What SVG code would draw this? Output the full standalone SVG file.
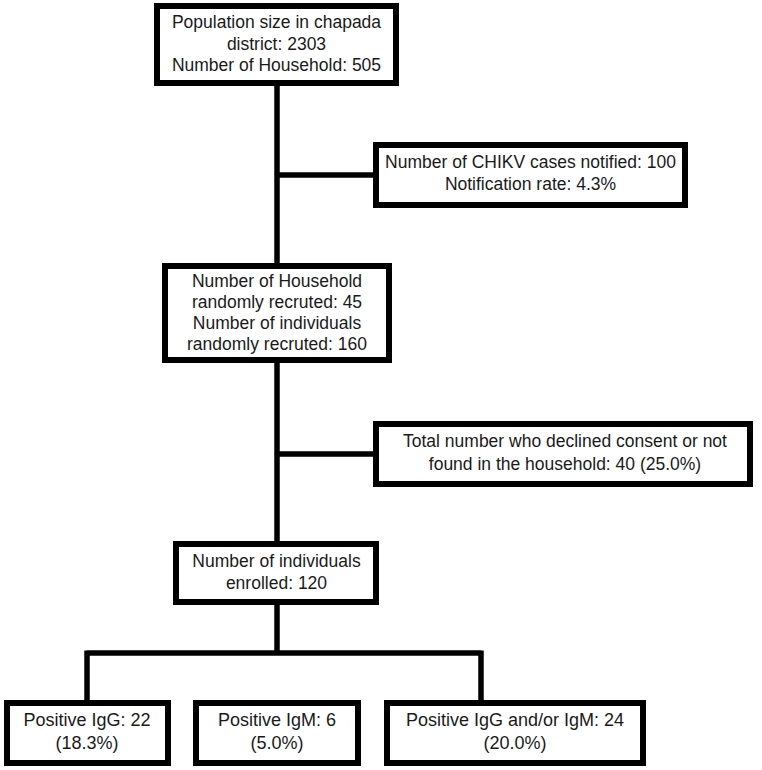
<svg xmlns="http://www.w3.org/2000/svg" width="762" height="770" viewBox="0 0 762 770">
<style>
.box{fill:#fff;stroke:#000;stroke-width:6}
.ln{fill:none;stroke:#000;stroke-width:5.5}
text{font-family:"Liberation Sans",Arial,sans-serif;font-size:17.5px;fill:#1a1a1a;text-anchor:middle}
.b text{font-size:18px}
</style>
<rect width="762" height="770" fill="#fff"/>
<g id="connectors">
<path class="ln" d="M277 83V265M277 360V544M277 602V653M277 175H377M277 454H377M87 653H481M87 650.5V702M481 650.5V702"/>
</g>
<g id="n1"><rect class="box" x="157" y="6" width="239" height="77"/>
<text x="276.5" y="28">Population size in chapada</text>
<text x="276.5" y="49.5">district: 2303</text>
<text x="276.5" y="71">Number of Household: 505</text></g>
<g id="n2"><rect class="box" x="376" y="145" width="309" height="60"/>
<text x="530.5" y="167.5">Number of CHIKV cases notified: 100</text>
<text x="530.5" y="190">Notification rate: 4.3%</text></g>
<g id="n3"><rect class="box" x="165" y="266" width="224" height="94"/>
<text x="277" y="286.5">Number of Household</text>
<text x="277" y="307.5">randomly recruted: 45</text>
<text x="277" y="328.5">Number of individuals</text>
<text x="277" y="349.5">randomly recruted: 160</text></g>
<g id="n4"><rect class="box" x="376" y="424" width="374" height="60"/>
<text x="565" y="447">Total number who declined consent or not</text>
<text x="565" y="469.5">found in the household: 40 (25.0%)</text></g>
<g id="n5"><rect class="box" x="176" y="544" width="200" height="58"/>
<text x="276.5" y="567">Number of individuals</text>
<text x="276.5" y="589">enrolled: 120</text></g>
<g class="b" id="n6"><rect class="box" x="7" y="703" width="161" height="60"/>
<text x="87" y="726">Positive IgG: 22</text>
<text x="87" y="748.5">(18.3%)</text></g>
<g class="b" id="n7"><rect class="box" x="196" y="703" width="162" height="60"/>
<text x="277" y="726">Positive IgM: 6</text>
<text x="277" y="748.5">(5.0%)</text></g>
<g class="b" id="n8"><rect class="box" x="387" y="703" width="256" height="60"/>
<text x="515" y="726">Positive IgG and/or IgM: 24</text>
<text x="515" y="748.5">(20.0%)</text></g>
</svg>
